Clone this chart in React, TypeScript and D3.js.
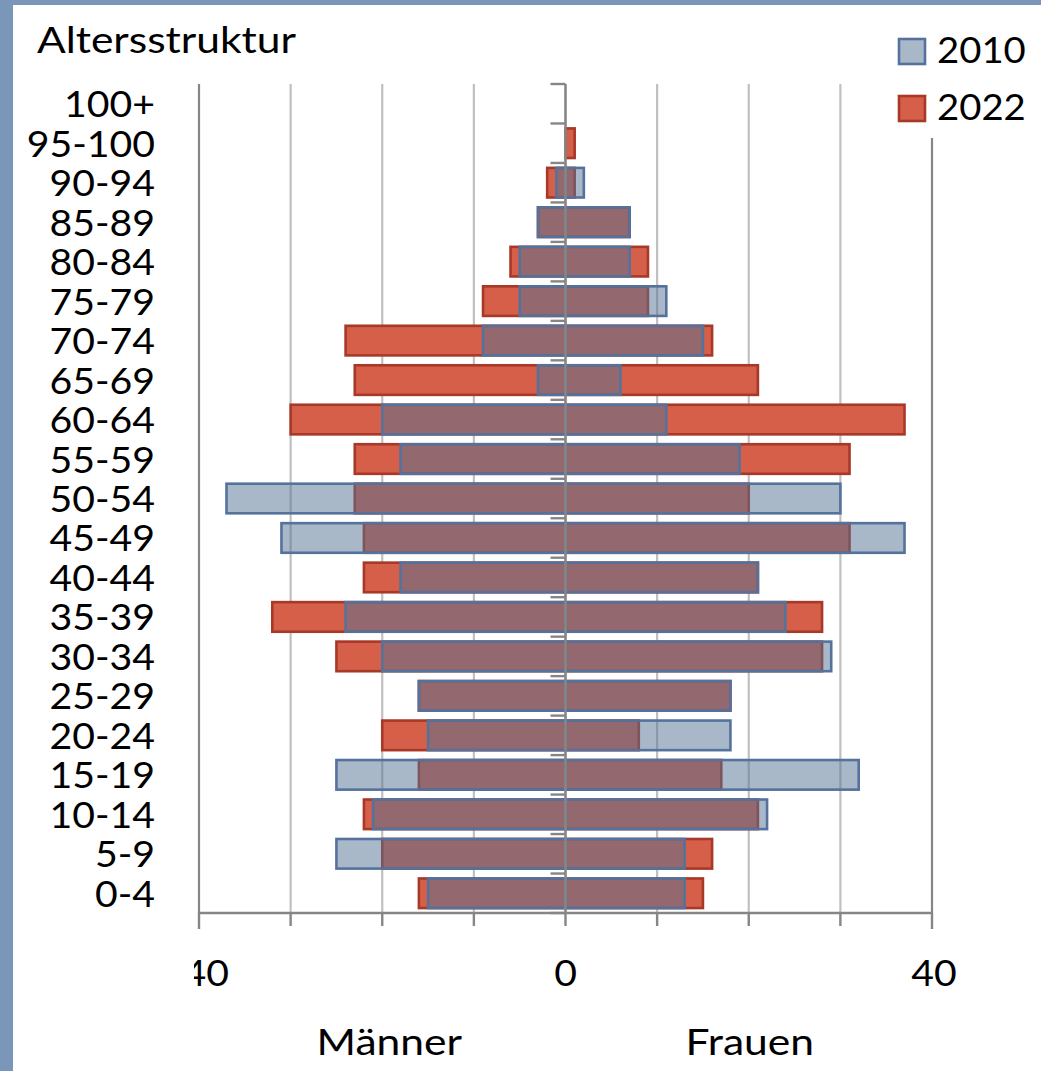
import React from 'react';
import * as d3 from 'd3';

const categories = ["100+", "95-100", "90-94", "85-89", "80-84", "75-79", "70-74", "65-69", "60-64", "55-59", "50-54", "45-49", "40-44", "35-39", "30-34", "25-29", "20-24", "15-19", "10-14", "5-9", "0-4"];
const men2010 = [0, 0, 1, 3, 5, 5, 9, 3, 20, 18, 37, 31, 18, 24, 20, 16, 15, 25, 21, 25, 15];
const men2022 = [0, 0, 2, 3, 6, 9, 24, 23, 30, 23, 23, 22, 22, 32, 25, 16, 20, 16, 22, 20, 16];
const women2010 = [0, 0, 2, 7, 7, 11, 15, 6, 11, 19, 30, 37, 21, 24, 29, 18, 18, 32, 22, 13, 13];
const women2022 = [0, 1, 1, 7, 9, 9, 16, 21, 37, 31, 20, 31, 21, 28, 28, 18, 8, 17, 21, 16, 15];
const xTicks = [-40, -30, -20, -10, 0, 10, 20, 30, 40];
const xTickLabels = [-40, 0, 40];
const seriesNames = ["2010", "2022"];
const title = "Altersstruktur";
const sideLabels = ["Männer", "Frauen"];
const sideValues = [-20, 20];

const W = 1041;
const H = 1071;
const FONT = "Lato, 'Open Sans', sans-serif";
const FS = 37;
const SX_WORD = 1.15;
const SX_NUM = 1.06;

const RED_FILL = "rgb(213,95,73)";
const RED_STROKE = "rgb(168,56,40)";
const BLUE_FILL = "rgb(82,114,148)";
const BLUE_STROKE = "rgb(84,114,156)";
const GRID = "rgb(192,192,192)";
const AXIS = "rgb(134,134,134)";
const FRAME = "rgb(122,150,185)";

function T(props: { x: number; y: number; sx: number; anchor?: string; children: React.ReactNode; clip?: string }) {
  return (
    <g transform={`translate(${props.x},${props.y}) scale(${props.sx},1)`} clipPath={props.clip}>
      <text x={0} y={0} textAnchor={props.anchor || 'start'} fontSize={FS} fill="#000">{props.children}</text>
    </g>
  );
}

export default function App() {
  const x = d3.scaleLinear().domain([-40, 40]).range([199, 932]);
  const y = d3.scaleBand<string>().domain(categories).range([84, 913]).paddingInner(0.25).paddingOuter(0.125);
  const step = y.step();
  const bw = y.bandwidth();
  const top = 84;
  const bottom = 913;
  const x0 = x(0);

  const bar = (cat: string, v: number, sign: number, fill: string, stroke: string, op: number, key: string) => {
    if (!v) return null;
    const a = x(0);
    const b = x(sign * v);
    return (
      <rect key={key} x={Math.min(a, b)} y={y(cat)} width={Math.abs(b - a)} height={bw}
        fill={fill} fillOpacity={op} stroke={stroke} strokeWidth={2.6} />
    );
  };

  return (
    <svg width={W} height={H} style={{ position: 'absolute', left: 0, top: 0, background: '#fff' }}
      fontFamily={FONT}>
      <defs>
        <clipPath id="tickclip" clipPathUnits="userSpaceOnUse">
          <rect x={-5} y={-60} width={200} height={100} />
        </clipPath>
      </defs>
      <rect x={0} y={0} width={W} height={H} fill="#fff" />
      {/* frame */}
      <rect x={0} y={0} width={W} height={5} fill={FRAME} />
      <rect x={0} y={0} width={13} height={H} fill={FRAME} />

      {/* gridlines */}
      {xTicks.filter(t => t !== 0).map(t => (
        <line key={'g' + t} x1={x(t)} x2={x(t)} y1={top} y2={bottom}
          stroke={Math.abs(t) === 40 ? AXIS : GRID} strokeWidth={2.2} />
      ))}

      {/* 2022 bars (behind) */}
      {categories.map((c, i) => bar(c, men2022[i], -1, RED_FILL, RED_STROKE, 1, 'm22' + i))}
      {categories.map((c, i) => bar(c, women2022[i], 1, RED_FILL, RED_STROKE, 1, 'w22' + i))}
      {/* 2010 bars (semi-transparent on top) */}
      {categories.map((c, i) => bar(c, men2010[i], -1, BLUE_FILL, BLUE_STROKE, 0.5, 'm10' + i))}
      {categories.map((c, i) => bar(c, women2010[i], 1, BLUE_FILL, BLUE_STROKE, 0.5, 'w10' + i))}

      {/* center vertical axis with category ticks */}
      <line x1={x0} x2={x0} y1={top} y2={bottom} stroke={AXIS} strokeWidth={2.6} />
      {d3.range(categories.length + 1).map(k => {
        const yy = top + k * step;
        return <line key={'ct' + k} x1={x0 - 15} x2={x0} y1={yy} y2={yy} stroke={AXIS} strokeWidth={2.4} />;
      })}

      {/* bottom axis */}
      <line x1={x(-40)} x2={x(40)} y1={bottom} y2={bottom} stroke={AXIS} strokeWidth={2.6} />
      {xTicks.map(t => (
        <line key={'bt' + t} x1={x(t)} x2={x(t)} y1={bottom} y2={Math.abs(t) === 40 ? 929 : 926}
          stroke={AXIS} strokeWidth={2.4} />
      ))}

      {/* tick labels */}
      {xTickLabels.map(t => (
        <T key={'tl' + t} x={x(t) + (t === 40 ? 2 : 0)} y={986} sx={SX_NUM} anchor="middle"
          clip={undefined}>
          {t < 0 ? '' : String(t)}
        </T>
      ))}
      <g clipPath="url(#tickclip2)">
        <defs>
          <clipPath id="tickclip2">
            <rect x={194} y={900} width={100} height={120} />
          </clipPath>
        </defs>
        <T x={x(-40)} y={986} sx={SX_NUM} anchor="middle">{'-' + Math.abs(xTickLabels[0])}</T>
      </g>

      {/* category labels */}
      {categories.map(c => (
        <T key={'cl' + c} x={155} y={(y(c) as number) + bw / 2 + 13.5} sx={SX_NUM} anchor="end">{c}</T>
      ))}

      {/* side labels */}
      {sideLabels.map((s, i) => (
        <T key={s} x={x(sideValues[i]) + (i === 0 ? 7 : 1)} y={1055} sx={SX_WORD} anchor="middle">{s}</T>
      ))}

      {/* title */}
      <T x={37} y={53} sx={SX_WORD}>{title}</T>

      {/* legend */}
      <rect x={885} y={8} width={W - 885} height={130} fill="#fff" />
      {seriesNames.map((n, i) => (
        <g key={n}>
          <rect x={899} y={39 + i * 57} width={26} height={25}
            fill={i === 0 ? BLUE_FILL : RED_FILL} fillOpacity={i === 0 ? 0.5 : 1}
            stroke={i === 0 ? BLUE_STROKE : RED_STROKE} strokeWidth={2.6} />
          <T x={937} y={63 + i * 57} sx={1.035}>{n}</T>
        </g>
      ))}
    </svg>
  );
}
